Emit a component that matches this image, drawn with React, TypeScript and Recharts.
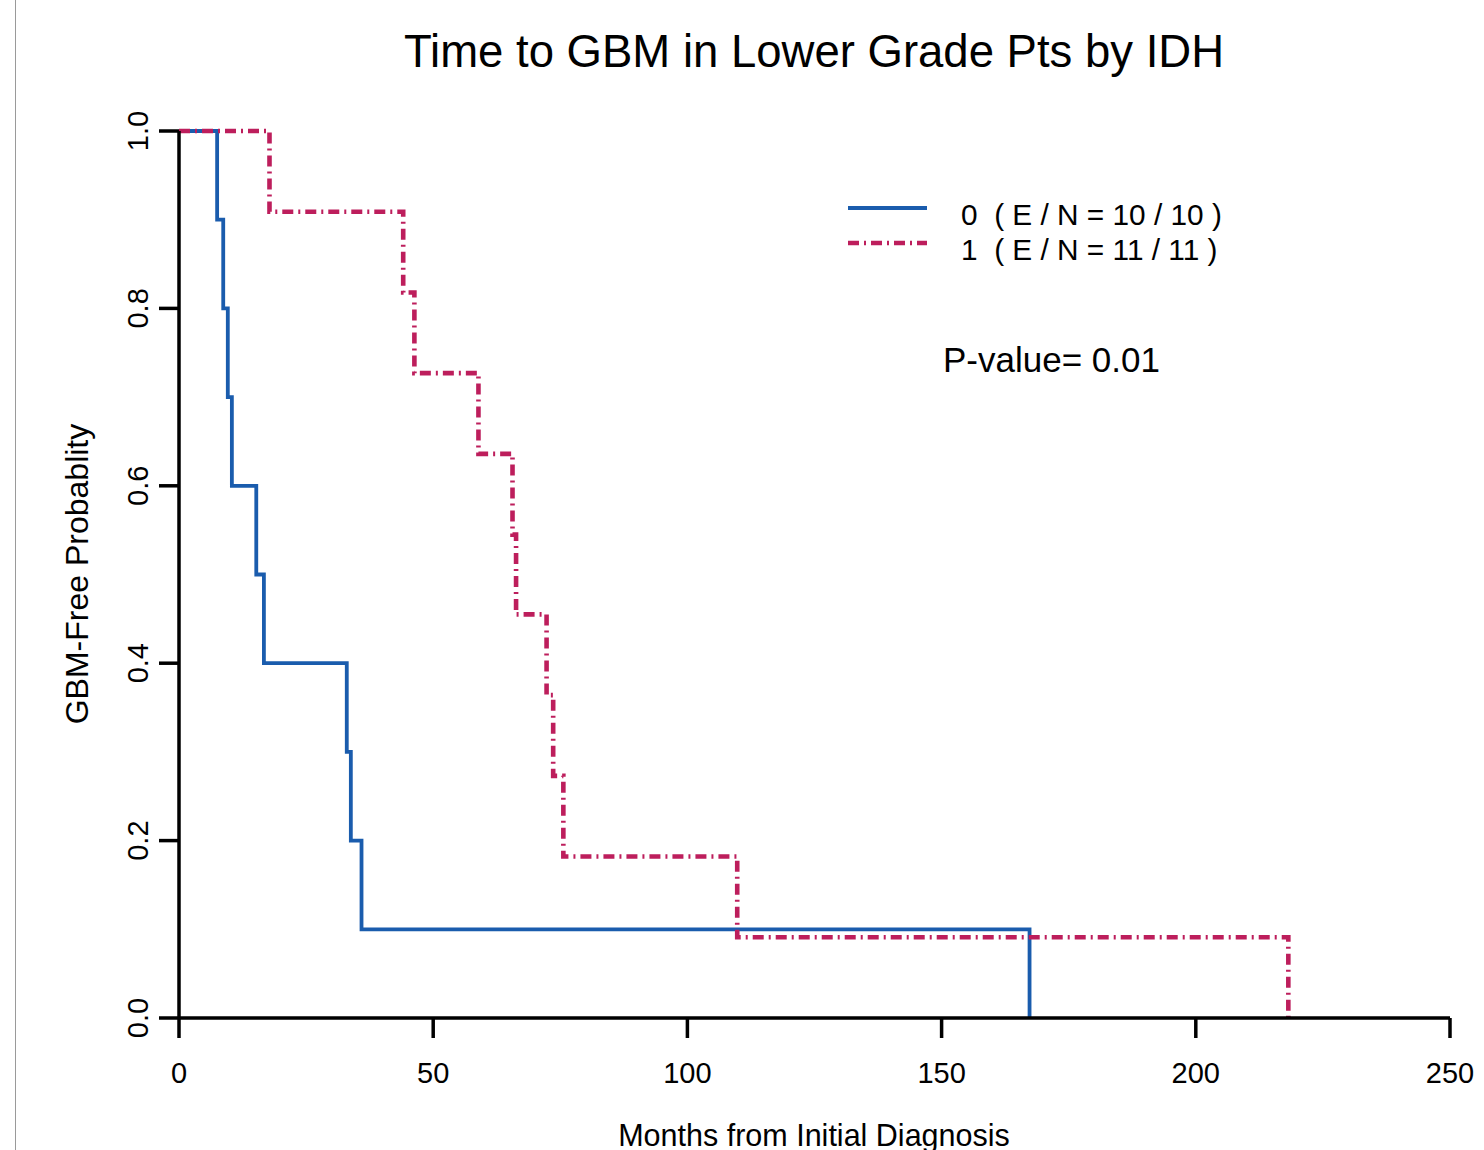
import React from "react";
import { LineChart, Line, XAxis, YAxis } from "recharts";

// IDH = 0 group (Kaplan-Meier steps)
const idh0Times = [0, 7.5, 8.7, 9.6, 10.4, 15.2, 16.7, 33.0, 33.8, 35.9, 167.3];
const idh0Surv = [1.0, 0.9, 0.8, 0.7, 0.6, 0.5, 0.4, 0.3, 0.2, 0.1, 0.0];

// IDH = 1 group
const idh1Times = [0, 17.8, 44.1, 46.3, 58.9, 65.6, 66.3, 72.3, 73.6, 75.6, 109.8, 218.2];
const idh1Surv = [1.0, 0.909, 0.818, 0.727, 0.636, 0.545, 0.455, 0.364, 0.273, 0.182, 0.091, 0.0];

const xTicks = [0, 50, 100, 150, 200, 250];
const yTicks = [0, 0.2, 0.4, 0.6, 0.8, 1.0];

const seriesLabels = ["0  ( E / N = 10 / 10 )", "1  ( E / N = 11 / 11 )"];
const titleText = "Time to GBM in Lower Grade Pts by IDH";
const xLabel = "Months from Initial Diagnosis";
const yLabel = "GBM-Free Probablity";
const pValueText = "P-value= 0.01";

const BLUE = "#1a5cad";
const PINK = "#bd1e5c";
const FONT = "'Liberation Sans', Arial, Helvetica, sans-serif";

const data0 = idh0Times.map((t, i) => ({ t, s: idh0Surv[i] }));
const data1 = idh1Times.map((t, i) => ({ t, s: idh1Surv[i] }));

const W = 1484;
const H = 1150;

const XTick = (props: any) => {
  const { x, y, payload } = props;
  return (
    <text x={x} y={y} dy={43} textAnchor="middle" fontFamily={FONT} fontSize={29} fill="#000">
      {payload.value}
    </text>
  );
};

const YTick = (props: any) => {
  const { x, y, payload } = props;
  return (
    <text
      transform={`translate(${x - 9}, ${y}) rotate(-90)`}
      textAnchor="middle"
      fontFamily={FONT}
      fontSize={29}
      fill="#000"
    >
      {Number(payload.value).toFixed(1)}
    </text>
  );
};

export default function App() {
  return (
    <div style={{ position: "absolute", left: 0, top: 0, width: W, height: H, background: "#fff", overflow: "hidden" }}>
      <div style={{ position: "absolute", left: 15, top: 0, width: 1, height: H, background: "#9a9a9a" }} />
      <div style={{ position: "absolute", left: 0, top: 0 }}>
        <LineChart width={W} height={H} margin={{ top: 131, right: 34, bottom: 102, left: 119 }}>
          <XAxis
            dataKey="t"
            type="number"
            domain={[0, 250]}
            ticks={xTicks}
            allowDataOverflow
            height={30}
            tickSize={20}
            tickMargin={2}
            stroke="#000"
            strokeWidth={3.5}
            axisLine={{ stroke: "#000", strokeWidth: 3.5 }}
            tickLine={{ stroke: "#000", strokeWidth: 3.5 }}
            tick={<XTick />}
            interval={0}
          />
          <YAxis
            dataKey="s"
            type="number"
            domain={[0, 1]}
            ticks={yTicks}
            width={60}
            tickSize={20}
            tickMargin={2}
            stroke="#000"
            strokeWidth={3.5}
            axisLine={{ stroke: "#000", strokeWidth: 3.5 }}
            tickLine={{ stroke: "#000", strokeWidth: 3.5 }}
            tick={<YTick />}
            interval={0}
          />
          <Line
            data={data0}
            dataKey="s"
            type="stepAfter"
            stroke={BLUE}
            strokeWidth={3.8}
            dot={false}
            activeDot={false}
            isAnimationActive={false}
          />
          <Line
            data={data1}
            dataKey="s"
            type="stepAfter"
            stroke={PINK}
            strokeWidth={4.6}
            strokeDasharray="11 5 2 5"
            dot={false}
            activeDot={false}
            isAnimationActive={false}
          />
        </LineChart>
      </div>
      <svg width={W} height={H} style={{ position: "absolute", left: 0, top: 0, pointerEvents: "none" }}>
        <text x={814} y={67} textAnchor="middle" fontFamily={FONT} fontSize={45.5} fill="#000">
          {titleText}
        </text>
        <text x={814} y={1146} textAnchor="middle" fontFamily={FONT} fontSize={30.5} fill="#000">
          {xLabel}
        </text>
        <text
          transform="translate(88, 574) rotate(-90)"
          textAnchor="middle"
          fontFamily={FONT}
          fontSize={32}
          fill="#000"
        >
          {yLabel}
        </text>
        <line x1={848} x2={927} y1={208} y2={208} stroke={BLUE} strokeWidth={3.8} />
        <line x1={848} x2={927} y1={243} y2={243} stroke={PINK} strokeWidth={4.6} strokeDasharray="11 5 2 5" />
        <text x={961} y={225} fontFamily={FONT} fontSize={29.8} fill="#000" style={{ whiteSpace: "pre" }}>
          {seriesLabels[0]}
        </text>
        <text x={961} y={260} fontFamily={FONT} fontSize={29.8} fill="#000" style={{ whiteSpace: "pre" }}>
          {seriesLabels[1]}
        </text>
        <text x={943} y={372} fontFamily={FONT} fontSize={35} fill="#000">
          {pValueText}
        </text>
      </svg>
    </div>
  );
}
